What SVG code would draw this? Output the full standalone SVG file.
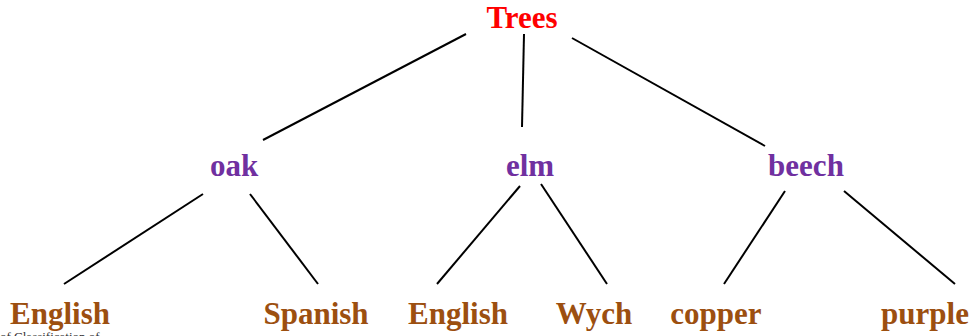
<svg xmlns="http://www.w3.org/2000/svg" width="974" height="336" viewBox="0 0 974 336">
<style>
text{font-family:"Liberation Serif","Times New Roman",serif;font-weight:bold;text-anchor:middle}
.root{fill:#ff0000;font-size:31px}
.mid{fill:#7030a0;font-size:31px}
.leaf{fill:#9c4f10;font-size:31px}
.note{fill:#333;font-size:13px;font-weight:normal;text-anchor:start}
line{stroke:#000;stroke-width:2}
</style>
<rect width="974" height="336" fill="#fff"/>
<g id="connectors">
<line x1="466" y1="34" x2="263" y2="140"/>
<line x1="524" y1="34" x2="522" y2="127"/>
<line x1="572" y1="38" x2="765" y2="146"/>
<line x1="203" y1="194" x2="64" y2="284"/>
<line x1="250" y1="194" x2="318" y2="284"/>
<line x1="520" y1="186" x2="437" y2="284"/>
<line x1="541" y1="184" x2="607" y2="284"/>
<line x1="785" y1="191" x2="724" y2="284"/>
<line x1="844" y1="191" x2="955" y2="284"/>
</g>
<g id="trees"><text class="root" x="522" y="28">Trees</text></g>
<g id="oak"><text class="mid" x="234" y="176">oak</text></g>
<g id="elm"><text class="mid" x="530" y="176">elm</text></g>
<g id="beech"><text class="mid" x="806" y="176">beech</text></g>
<g id="oak-english"><text class="leaf" x="60" y="324">English</text></g>
<g id="oak-spanish"><text class="leaf" x="316" y="324">Spanish</text></g>
<g id="elm-english"><text class="leaf" x="458" y="324">English</text></g>
<g id="elm-wych"><text class="leaf" x="594" y="324">Wych</text></g>
<g id="beech-copper"><text class="leaf" x="716" y="324">copper</text></g>
<g id="beech-purple"><text class="leaf" x="925" y="324">purple</text></g>
<text class="note" x="0" y="341">of Classification of</text>
</svg>
